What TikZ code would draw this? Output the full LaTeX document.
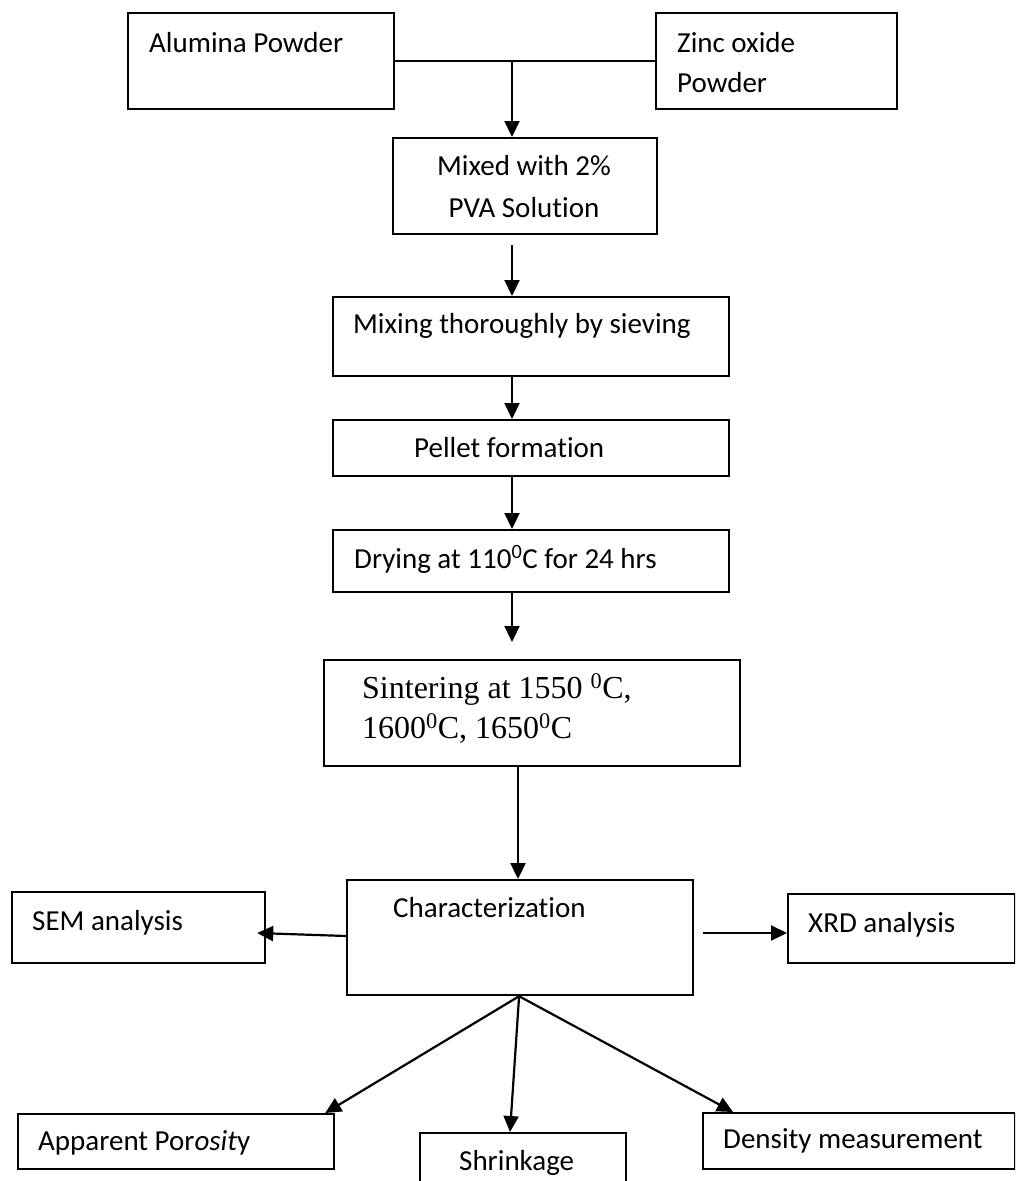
\documentclass[tikz,border=0pt]{standalone}
\usepackage{fontspec}
\setmainfont{Carlito}[Ligatures=NoCommon]
\newfontfamily\tnr{Liberation Serif}
\usetikzlibrary{arrows.meta,calc}
\tikzset{
  box/.style={draw, line width=2.2pt, inner sep=0pt, anchor=north west},
  txt/.style={inner sep=0pt, anchor=base west, font=\fontsize{29}{35}\selectfont},
  ttxt/.style={inner sep=0pt, anchor=base west, font=\tnr\fontsize{32}{40}\selectfont},
  arr/.style={line width=2.2pt, -{Triangle[length=16pt,width=15pt]}},
  ln/.style={line width=2.2pt}
}
\begin{document}
\begin{tikzpicture}[x=1pt,y=-1pt]
\useasboundingbox (0,0) rectangle (1015,1181);
\clip (0,0) rectangle (1015,1181);
% boxes
\node[box, minimum width=266pt, minimum height=96pt] (al) at (127,12) {};
\node[box, minimum width=241pt, minimum height=96pt] (zn) at (655,12) {};
\node[box, minimum width=264pt, minimum height=96pt] (mix) at (392,137) {};
\node[box, minimum width=396pt, minimum height=79pt] (sieve) at (332,296) {};
\node[box, minimum width=396pt, minimum height=56pt] (pel) at (332,419) {};
\node[box, minimum width=396pt, minimum height=62pt] (dry) at (332,529) {};
\node[box, minimum width=416pt, minimum height=106pt] (sin) at (323,659) {};
\node[box, minimum width=346pt, minimum height=115pt] (chr) at (346,879) {};
\node[box, minimum width=253pt, minimum height=71pt] (sem) at (11,891) {};
\node[box, minimum width=227pt, minimum height=69pt] (xrd) at (787,893) {};
\node[box, minimum width=316pt, minimum height=55pt] (ap) at (17,1113) {};
\node[box, minimum width=206pt, minimum height=70pt] (shr) at (419,1132) {};
\node[box, minimum width=312pt, minimum height=56pt] (den) at (702,1112) {};
% texts
\node[txt] (tal) at (149,52) {Alumina Powder};
\node[txt] (tzn1) at (677,52) {Zinc oxide};
\node[txt] (tzn2) at (677,92) {Powder};
\node[txt, anchor=base] (tmix1) at (524,175) {Mixed with 2\%};
\node[txt, anchor=base] (tmix2) at (524,217) {PVA Solution};
\node[txt] (tsieve) at (353,333) {Mixing thoroughly by sieving};
\node[txt] (tpel) at (414,457) {Pellet formation};
\node[txt] (tdry) at (354,568) {Drying at 110\textsuperscript{0}C for 24 hrs};
\node[ttxt] (tsin1) at (362,698) {Sintering at 1550 \textsuperscript{0}C,};
\node[ttxt] (tsin2) at (362,738) {1600\textsuperscript{0}C, 1650\textsuperscript{0}C};
\node[txt] (tchr) at (393,917) {Characterization};
\node[txt] (tsem) at (32,930) {SEM analysis};
\node[txt] (txrd) at (808,932) {XRD analysis};
\node[txt] (tap) at (38,1150) {Apparent Por\textit{osit}y};
\node[txt] (tshr) at (459,1170) {Shrinkage};
\node[txt] (tden) at (723,1148) {Density measurement};
% connectors
\coordinate (j) at (512,61);
\draw[ln] (al.east) -- (zn.west);
\draw[arr] (j) -- (j |- mix.north);
\draw[arr] ($(j |- mix.south)+(0,10)$) -- (j |- sieve.north);
\draw[arr] (j |- sieve.south) -- (j |- pel.north);
\draw[arr] (j |- pel.south) -- (j |- dry.north);
\draw[arr] (j |- dry.south) -- ($(j |- sin.north)+(0,-17)$);
\coordinate (k) at (518,0);
\draw[arr] (k |- sin.south) -- (k |- chr.north);
\draw[arr] ($(chr.north west)+(0,57)$) -- ($(sem.north east)+(-9,42)$);
\draw[arr] ($(chr.north east)+(9,54)$) -- ($(xrd.north west)+(0,40)$);
\coordinate (cb) at ($(chr.south)+(-1,0)$);
\draw[arr] (cb) -- ($(ap.north east)+(-10,0)$);
\draw[arr] (cb) -- ($(shr.north west)+(91,0)$);
\draw[arr] (cb) -- ($(den.north west)+(31,0)$);
\end{tikzpicture}
\end{document}
